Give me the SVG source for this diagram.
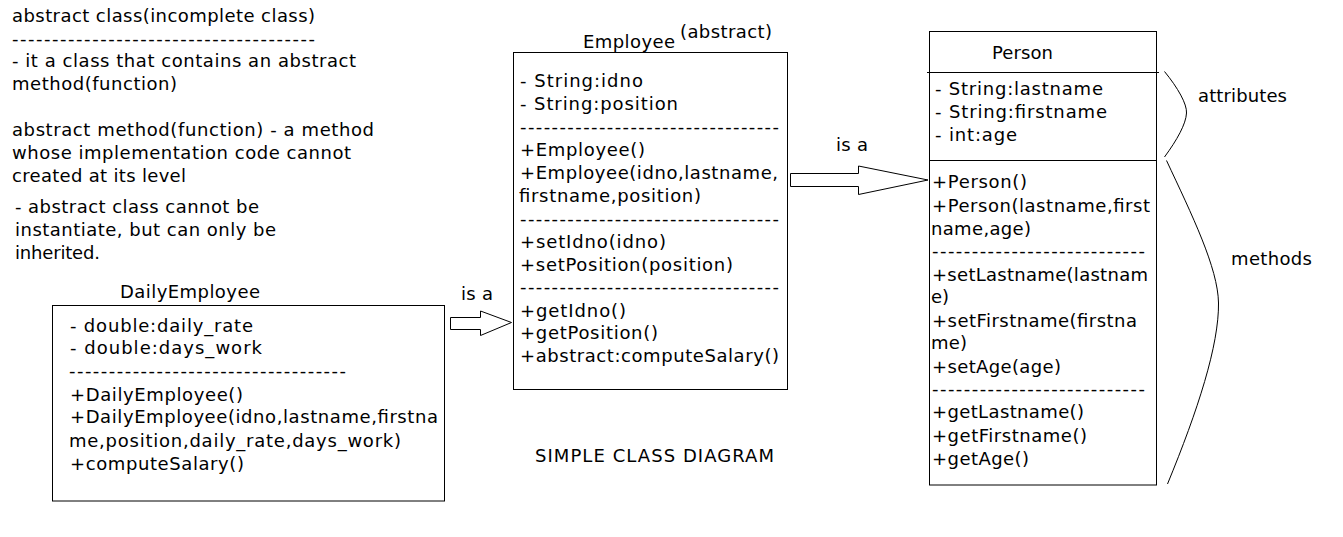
<svg xmlns="http://www.w3.org/2000/svg" width="1343" height="537" viewBox="0 0 1343 537">
<style>
text{font-family:"DejaVu Sans","Verdana","Liberation Sans",sans-serif;font-size:18px;fill:#000}
.box{fill:#fff;stroke:#000;stroke-width:1}
.ln{stroke:#000;stroke-width:1;fill:none}
.arr{fill:#fff;stroke:#000;stroke-width:1}
.brace{fill:none;stroke:#000;stroke-width:1}
</style>
<rect x="0" y="0" width="1343" height="537" fill="#fff"/>

<g id="notes">
<text x="12" y="22" textLength="303">abstract class(incomplete class)</text>
<text x="12" y="45" textLength="303">--------------------------------------</text>
<text x="12" y="67" textLength="344">- it a class that contains an abstract</text>
<text x="12" y="90" textLength="165">method(function)</text>
<text x="12" y="136" textLength="362">abstract method(function) - a method</text>
<text x="12" y="159" textLength="339">whose implementation code cannot</text>
<text x="12" y="182" textLength="174">created at its level</text>
<text x="15" y="213" textLength="244">- abstract class cannot be</text>
<text x="15" y="236" textLength="261">instantiate, but can only be</text>
<text x="15" y="259" textLength="85">inherited.</text>
</g>

<g id="employee">
<text x="583" y="48" textLength="92">Employee</text>
<text x="680" y="38" textLength="92">(abstract)</text>
<rect class="box" x="513.5" y="52.5" width="274" height="337"/>
<text x="520" y="87" textLength="123">- String:idno</text>
<text x="520" y="110" textLength="158">- String:position</text>
<text x="520" y="133" textLength="259">---------------------------------</text>
<text x="520" y="156" textLength="125">+Employee()</text>
<text x="520" y="179" textLength="258">+Employee(idno,lastname,</text>
<text x="519" y="202" textLength="182">firstname,position)</text>
<text x="520" y="225" textLength="259">---------------------------------</text>
<text x="520" y="248" textLength="146">+setIdno(idno)</text>
<text x="520" y="271" textLength="213">+setPosition(position)</text>
<text x="520" y="293" textLength="259">---------------------------------</text>
<text x="520" y="317" textLength="106">+getIdno()</text>
<text x="520" y="339" textLength="138">+getPosition()</text>
<text x="520" y="362" textLength="259">+abstract:computeSalary()</text>
</g>

<g id="person">
<rect class="box" x="929.5" y="31.5" width="227" height="453.5"/>
<line class="ln" x1="927" y1="72.5" x2="1159" y2="72.5"/>
<line class="ln" x1="929.5" y1="160.5" x2="1156.5" y2="160.5"/>
<text x="992" y="59" textLength="61">Person</text>
<text x="935" y="95" textLength="168">- String:lastname</text>
<text x="935" y="118" textLength="172">- String:firstname</text>
<text x="935" y="141" textLength="82">- int:age</text>
<text x="932" y="188" textLength="95">+Person()</text>
<text x="932" y="212" textLength="218">+Person(lastname,first</text>
<text x="931" y="235" textLength="100">name,age)</text>
<text x="932" y="257" textLength="213">---------------------------</text>
<text x="932" y="281" textLength="216">+setLastname(lastnam</text>
<text x="931" y="303" textLength="18">e)</text>
<text x="932" y="327" textLength="205">+setFirstname(firstna</text>
<text x="931" y="349" textLength="36">me)</text>
<text x="932" y="373" textLength="129">+setAge(age)</text>
<text x="932" y="395" textLength="213">---------------------------</text>
<text x="932" y="418" textLength="152">+getLastname()</text>
<text x="932" y="442" textLength="155">+getFirstname()</text>
<text x="932" y="465" textLength="97">+getAge()</text>
</g>

<g id="daily-employee">
<text x="120" y="298" textLength="140">DailyEmployee</text>
<rect class="box" x="52.5" y="305.5" width="392" height="195.5"/>
<text x="70" y="332" textLength="183">- double:daily_rate</text>
<text x="70" y="354" textLength="192">- double:days_work</text>
<text x="69" y="377" textLength="277">-----------------------------------</text>
<text x="70" y="401" textLength="173">+DailyEmployee()</text>
<text x="70" y="423" textLength="368">+DailyEmployee(idno,lastname,firstna</text>
<text x="69" y="447" textLength="332">me,position,daily_rate,days_work)</text>
<text x="70" y="470" textLength="174">+computeSalary()</text>
</g>

<g id="annotations">
<path class="brace" d="M1164.5,71.5 C1178,88 1187,104 1186.5,113 C1186,124 1177,140 1164.5,157"/>
<text x="1198" y="102" textLength="89">attributes</text>
<path class="brace" d="M1166.5,160.5 C1192,215 1218,268 1218.5,303 C1219,345 1198,410 1167.5,484"/>
<text x="1231" y="265" textLength="81">methods</text>
<text x="535" y="462" textLength="239">SIMPLE CLASS DIAGRAM</text>
</g>

<g id="connectors">
<polygon class="arr" points="790.5,173.5 858.5,173.5 858.5,166 928,180 858.5,194.5 858.5,186.5 790.5,186.5"/>
<text x="836" y="151" textLength="32">is a</text>
<polygon class="arr" points="450.5,317.5 480.5,317.5 480.5,311 511.5,322.5 480.5,335.5 480.5,329.5 450.5,329.5"/>
<text x="461" y="300" textLength="32">is a</text>
</g>
</svg>
